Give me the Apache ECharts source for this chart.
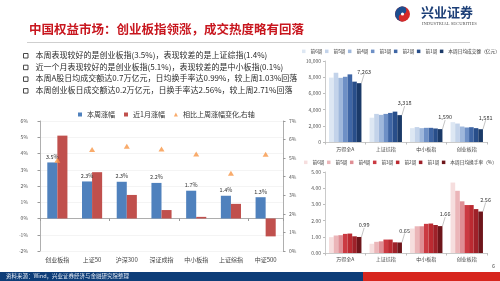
<!DOCTYPE html>
<html><head><meta charset="utf-8">
<script src="https://cdn.jsdelivr.net/npm/echarts@6/dist/echarts.min.js"></script>
<style>html,body{margin:0;padding:0;background:#fff}#c{width:500px;height:281px}</style>
</head><body><div id="c"></div>
<script>
const titleText = '中国权益市场：创业板指领涨，成交热度略有回落';
const bullets = [
  '本周表现较好的是创业板指(3.5%)，表现较差的是上证综指(1.4%)',
  '近一个月表现较好的是创业板指(5.1%)，表现较差的是中小板指(0.1%)',
  '本周A股日均成交额达0.7万亿元，日均换手率达0.99%，较上周1.03%回落',
  '本周创业板日成交额达0.2万亿元，日换手率达2.56%，较上周2.71%回落'
];
const sourceText = '资料来源：Wind，兴业证券经济与金融研究院整理';
const idxCats = ['创业板指','上证50','沪深300','深证成指','中小板指','上证综指','中证500'];
const weekChg = [3.45, 2.28, 2.26, 2.19, 1.71, 1.40, 1.31];
const monthChg = [5.10, 2.85, 1.45, 0.52, 0.10, 0.90, -1.10];
const chgDiff = [4.88, 5.46, 5.64, 5.49, 5.22, 4.18, 5.21];
const leftNames = ['本周涨幅','近1月涨幅','相比上周涨幅变化,右轴'];
const leftTicks = [-2, 6, 1];
const rightTicks = [0, 7, 1];
const mktCats = ['万得全A','上证综指','中小板指','创业板指'];
const weekNames = ['前6周','前5周','前4周','前3周','前2周','前1周'];
const turnoverName = '本周日均成交额（亿元）';
const rateName = '本周日均换手率（%）';
const turnover = [
  [7950, 3000, 1710, 2450],
  [8550, 3470, 1840, 2280],
  [7920, 3350, 1710, 1910],
  [8050, 3470, 1750, 1790],
  [8350, 3590, 1750, 1830],
  [7450, 3750, 1670, 1710],
  [7263, 3318, 1590, 1581]
];
const rate = [
  [0.98, 0.57, 1.51, 4.35],
  [1.08, 0.69, 1.65, 3.84],
  [1.10, 0.72, 1.65, 3.19],
  [1.18, 0.83, 1.80, 2.96],
  [1.20, 0.83, 1.82, 2.96],
  [1.03, 0.66, 1.73, 2.71],
  [0.99, 0.65, 1.66, 2.56]
];
const turnoverTicks = [0, 10000, 2000];
const rateTicks = [0, 5, 1];

const FONT = '"Noto Sans CJK SC", "Noto Sans", sans-serif';
const blues = ['#dde7f3','#c3d3ea','#9fb8dc','#6e90c6','#3f66a5','#284e8a','#1b3a68'];
const reds = ['#f6dede','#ebb5b8','#df8f95','#cb3a42','#bb2a31','#9e2129','#6e161b'];

const chart = echarts.init(document.getElementById('c'), null, {renderer:'canvas'});
const comma = v => Math.round(v).toString().replace(/\B(?=(\d{3})+(?!\d))/g, ',');

const topNames = weekNames.concat([turnoverName]);
const botNames = weekNames.map(n => n + ' ').concat([rateName]);

const series = [
  {name: leftNames[0], type:'bar', xAxisIndex:0, yAxisIndex:0, data: weekChg,
   itemStyle:{color:'#4f81bd'}, barGap:'0%', barCategoryGap:'42%',
   label:{show:true, position:'top', fontSize:5.5, color:'#333', distance:3,
     formatter: p => p.value.toFixed(1) + '%'}},
  {name: leftNames[1], type:'bar', xAxisIndex:0, yAxisIndex:0, data: monthChg,
   itemStyle:{color:'#c0504d'}},
  {name: leftNames[2], type:'scatter', xAxisIndex:0, yAxisIndex:1, data: chgDiff,
   symbol:'triangle', symbolSize:[6,5], itemStyle:{color:'#f79646'}, z:5}
];
topNames.forEach((n, i) => {
  series.push({name:n, type:'bar', xAxisIndex:2, yAxisIndex:2, data: turnover[i],
    itemStyle:{color: blues[i]}, barGap:'0%', barCategoryGap:'20%',
    label: i === 6 ? {show:true, position:'top', fontSize:5.5, color:'#333',
      formatter: p => comma(p.value)} : {show:false},
    labelLayout: i === 6 ? {dx:5, dy:-4} : undefined,
    labelLine: i === 6 ? {show:true, lineStyle:{color:'#888', width:0.5}} : undefined
  });
});
botNames.forEach((n, i) => {
  series.push({name:n, type:'bar', xAxisIndex:3, yAxisIndex:3, data: rate[i],
    itemStyle:{color: reds[i]}, barGap:'0%', barCategoryGap:'20%',
    label: i === 6 ? {show:true, position:'top', fontSize:5.5, color:'#333',
      formatter: p => p.value.toFixed(2)} : {show:false},
    labelLayout: i === 6 ? {dx:5, dy:-4} : undefined,
    labelLine: i === 6 ? {show:true, lineStyle:{color:'#888', width:0.5}} : undefined
  });
});

const graphics = [
  {type:'text', left:29, top:23, style:{text:titleText, font:'bold 12.5px ' + FONT, fill:'#c8161e'}},
  {type:'line', shape:{x1:27, y1:42.5, x2:470, y2:42.5}, style:{stroke:'#cfcfcf', lineWidth:1}},
  // logo
  {type:'circle', shape:{cx:402.5, cy:14, r:7.5}, style:{fill:'#d42a2a'}},
  {type:'sector', shape:{cx:402.5, cy:14, r:7.5, r0:0, startAngle:Math.PI/2, endAngle:Math.PI*1.5}, style:{fill:'#1d4d8f'}},
  {type:'circle', shape:{cx:402.5, cy:10.25, r:3.75}, style:{fill:'#1d4d8f'}},
  {type:'circle', shape:{cx:402.5, cy:17.75, r:3.75}, style:{fill:'#d42a2a'}},
  {type:'circle', shape:{cx:402.5, cy:14, r:1.6}, style:{fill:'#fff'}},
  {type:'text', left:421, top:6, style:{text:'兴业证券', font:'bold 13px ' + FONT, fill:'#1c3f77'}},
  {type:'text', left:422, top:21, style:{text:'INDUSTRIAL SECURITIES', font:'4.6px "Liberation Serif", serif', fill:'#555'}},
  // footer
  {type:'rect', shape:{x:0, y:272, width:363, height:9}, style:{fill:'#0d3d78'}},
  {type:'rect', shape:{x:363, y:272, width:137, height:9}, style:{fill:'#d7261e'}},
  {type:'text', left:6, top:273.5, style:{text:sourceText, font:'5.5px ' + FONT, fill:'#e6ecf5'}},
  {type:'text', left:492, top:263, style:{text:'6', font:'5.5px ' + FONT, fill:'#555'}}
];
bullets.forEach((b, i) => {
  const y = 56 + i * 11.7;
  graphics.push({type:'rect', shape:{x:23.5, y:y-2.5, width:4.5, height:4.5}, style:{fill:'none', stroke:'#333', lineWidth:0.9}});
  graphics.push({type:'text', left:35.5, top:y-5, style:{text:b, font:'8px ' + FONT, fill:'#2b2b2b'}});
});

const smallAxis = {fontSize:5, color:'#555', fontFamily:FONT};
const rightLegend = {itemWidth:3.5, itemHeight:3.5, itemGap:2.5, padding:0, width:200,
  selectedMode:false, textStyle:{fontSize:4.7, color:'#333'}};

chart.setOption({
  animation:false,
  textStyle:{fontFamily:FONT},
  grid:[
    {left:40, top:121, width:243, height:130},
    {left:325, top:61, width:162, height:81},
    {left:325, top:172, width:162, height:81}
  ],
  legend:[
    {data:[{name:leftNames[0], icon:'rect'},{name:leftNames[1], icon:'rect'},{name:leftNames[2], icon:'triangle'}],
     left:73, top:106, itemWidth:4, itemHeight:4, itemGap:9, selectedMode:false,
     textStyle:{fontSize:7, color:'#333'}},
    Object.assign({data:topNames.map(n => ({name:n, icon:'rect'})), left:302, top:49}, rightLegend),
    Object.assign({data:botNames.map(n => ({name:n, icon:'rect'})), left:304, top:160, formatter: n => n.trim()}, rightLegend)
  ],
  xAxis:[
    {type:'category', gridIndex:0, data:idxCats, position:'bottom',
     axisLine:{show:false, onZero:false}, axisTick:{show:false},
     axisLabel:{fontSize:6, color:'#444', margin:6}},
    {type:'category', gridIndex:0, data:idxCats, position:'bottom',
     axisLine:{show:true, onZero:true, onZeroAxisIndex:0, lineStyle:{color:'#9a9a9a', width:0.8}},
     axisTick:{show:true, length:2.5, lineStyle:{color:'#9a9a9a'}}, axisLabel:{show:false}},
    {type:'category', gridIndex:1, data:mktCats,
     axisLine:{lineStyle:{color:'#bdbdbd', width:0.8}}, axisTick:{show:true, length:2.5, lineStyle:{color:'#bdbdbd'}},
     axisLabel:{fontSize:5, color:'#444', margin:5}},
    {type:'category', gridIndex:2, data:mktCats,
     axisLine:{lineStyle:{color:'#bdbdbd', width:0.8}}, axisTick:{show:true, length:2.5, lineStyle:{color:'#bdbdbd'}},
     axisLabel:{fontSize:5, color:'#444', margin:4}}
  ],
  yAxis:[
    {type:'value', gridIndex:0, min:leftTicks[0], max:leftTicks[1], interval:leftTicks[2],
     axisLine:{show:true, lineStyle:{color:'#9a9a9a', width:0.8}}, axisTick:{show:true, length:2.5, lineStyle:{color:'#9a9a9a'}},
     splitLine:{show:true, lineStyle:{color:'#ececec', width:0.6}},
     axisLabel:Object.assign({margin:12, formatter: v => v + '%'}, smallAxis)},
    {type:'value', gridIndex:0, min:rightTicks[0], max:rightTicks[1], interval:rightTicks[2], position:'right',
     axisLine:{show:true, lineStyle:{color:'#9a9a9a', width:0.8}}, axisTick:{show:true, length:2.5, lineStyle:{color:'#9a9a9a'}},
     splitLine:{show:false},
     axisLabel:Object.assign({margin:6, formatter: v => v + '%'}, smallAxis)},
    {type:'value', gridIndex:1, min:turnoverTicks[0], max:turnoverTicks[1], interval:turnoverTicks[2],
     axisLine:{show:true, lineStyle:{color:'#bdbdbd', width:0.8}}, axisTick:{show:true, length:2, lineStyle:{color:'#bdbdbd'}},
     splitLine:{show:false},
     axisLabel:Object.assign({margin:4, formatter: v => comma(v)}, smallAxis)},
    {type:'value', gridIndex:2, min:rateTicks[0], max:rateTicks[1], interval:rateTicks[2],
     axisLine:{show:true, lineStyle:{color:'#bdbdbd', width:0.8}}, axisTick:{show:true, length:2, lineStyle:{color:'#bdbdbd'}},
     splitLine:{show:false},
     axisLabel:Object.assign({margin:4, formatter: v => v.toFixed(2)}, smallAxis)}
  ],
  graphic: graphics,
  series: series
});
</script></body></html>
